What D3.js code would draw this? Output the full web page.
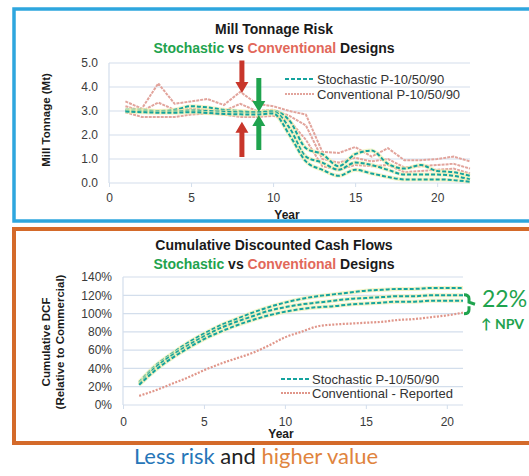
<!DOCTYPE html>
<html>
<head>
<meta charset="utf-8">
<script src="https://cdn.jsdelivr.net/npm/d3@7"></script>
<style>
  body { margin: 0; background: #fff; }
  svg { display: block; font-family: "Liberation Sans", Arial, sans-serif; }
</style>
</head>
<body>
<svg id="chart" width="529" height="476"></svg>
<script>
// ---- data: mill tonnage (Mt) by year 1..22
var tonYears = d3.range(1, 23);
var tonStochP90 = [3.05,3.05,3.0,3.05,3.2,3.15,3.05,3.0,2.95,3.0,2.6,1.45,1.2,0.7,1.2,1.35,0.8,0.6,0.75,0.5,0.45,0.3];
var tonStochP50 = [3.0,3.0,2.98,2.98,3.02,3.0,2.97,2.95,2.95,2.98,2.3,1.1,0.85,0.55,0.85,0.75,0.55,0.35,0.35,0.35,0.3,0.15];
var tonStochP10 = [2.98,2.95,2.93,2.93,2.95,2.92,2.88,2.86,2.85,2.9,2.0,0.9,0.55,0.3,0.55,0.4,0.25,0.15,0.15,0.15,0.12,0.05];
var tonConvP90 = [3.4,3.1,4.15,3.3,3.4,3.5,3.25,3.8,3.3,3.2,3.0,2.85,1.3,1.25,1.5,1.1,1.45,0.95,0.95,1.0,1.1,0.9];
var tonConvP50 = [3.2,3.0,3.35,3.05,3.1,3.05,3.0,3.3,3.0,3.05,2.8,2.4,1.0,0.85,1.05,0.9,1.0,0.65,0.7,0.75,0.8,0.6];
var tonConvP10 = [2.95,2.75,2.75,2.75,2.85,2.9,2.85,2.75,2.75,2.8,2.6,1.8,0.7,0.55,0.75,0.7,0.75,0.45,0.5,0.55,0.6,0.4];
var tonTicksY = [0,1,2,3,4,5];
var tonTicksX = [0,5,10,15,20];

// ---- data: cumulative DCF (% relative to commercial) by year 1..21
var dcfYears = d3.range(1, 22);
var dcfStochP90 = [25,43,56,68,78,87,94,101,107,112,116,119,121,123,125,126,127,127,128,128,128];
var dcfStochP50 = [23,41,54,65,75,84,91,97,103,107,110,112,114,116,117,118,119,119,120,120,120];
var dcfStochP10 = [22,38,51,62,72,80,87,93,98,102,105,107,108,110,111,112,113,113,114,114,114];
var dcfConv = [10,16,23,30,38,45,51,57,65,74,80,86,88,89,90,91,93,94,96,98,101];
var dcfTicksY = [0,20,40,60,80,100,120,140];
var dcfTicksX = [0,5,10,15,20];

var teal = "#14a39e", pink = "#e2a49c", green = "#1fa34e", red = "#c8362b";
var grid = "#d3deec";

var svg = d3.select("#chart");

// panel frames
svg.append("rect").attr("x", 14).attr("y", 9).attr("width", 540).attr("height", 212)
  .attr("fill", "#fff").attr("stroke", "#2ea6de").attr("stroke-width", 3.5);
svg.append("rect").attr("x", 14).attr("y", 229).attr("width", 540).attr("height", 214)
  .attr("fill", "#fff").attr("stroke", "#d46a2a").attr("stroke-width", 4);

function titles(y1, y2, text1) {
  svg.append("text").attr("x", 274).attr("y", y1).attr("text-anchor", "middle")
    .attr("font-weight", "bold").attr("font-size", 14).attr("fill", "#1a1a1a").text(text1);
  var t = svg.append("text").attr("x", 274).attr("y", y2).attr("text-anchor", "middle")
    .attr("font-weight", "bold").attr("font-size", 14);
  t.append("tspan").attr("fill", green).text("Stochastic");
  t.append("tspan").attr("fill", "#1a1a1a").text(" vs ");
  t.append("tspan").attr("fill", "#e2685a").text("Conventional");
  t.append("tspan").attr("fill", "#1a1a1a").text(" Designs");
}

function drawLine(g, xs, ys, xv, yv, opts) {
  var line = d3.line().x(function(d, i) { return xs(xv[i]); }).y(function(d) { return ys(d); })
    .curve(opts.curve || d3.curveLinear);
  if (opts.halo) {
    g.append("path").attr("d", line(yv)).attr("fill", "none")
      .attr("stroke", "#eef0b0").attr("stroke-width", 4).attr("opacity", 0.7);
  }
  g.append("path").attr("d", line(yv)).attr("fill", "none")
    .attr("stroke", opts.color).attr("stroke-width", opts.width)
    .attr("stroke-dasharray", opts.dash);
}

// ================= top chart: mill tonnage
titles(34, 53, "Mill Tonnage Risk");
var x1 = d3.scaleLinear().domain([0, 22]).range([109, 470]);
var y1 = d3.scaleLinear().domain([0, 5]).range([183, 63]);
var g1 = svg.append("g");

g1.selectAll(".grid").data(tonTicksY).enter().append("line")
  .attr("x1", x1(0)).attr("x2", x1(22)).attr("y1", y1).attr("y2", y1)
  .attr("stroke", grid).attr("stroke-width", 1.2);
g1.append("line").attr("x1", x1(0)).attr("x2", x1(0)).attr("y1", y1(0)).attr("y2", y1(5))
  .attr("stroke", grid).attr("stroke-width", 1.2);

var ax1 = g1.append("g").attr("transform", "translate(0," + y1(0) + ")")
  .call(d3.axisBottom(x1).tickValues(tonTicksX).tickSize(4).tickPadding(6));
ax1.select(".domain").remove();
ax1.selectAll("line").attr("stroke", grid);
ax1.selectAll("text").attr("font-size", 12).attr("fill", "#3a3a3a").attr("font-family", null);

var ay1 = g1.append("g").attr("transform", "translate(" + x1(0) + ",0)")
  .call(d3.axisLeft(y1).tickValues(tonTicksY).tickSize(0).tickPadding(11).tickFormat(d3.format(".1f")));
ay1.select(".domain").remove();
ay1.selectAll("text").attr("font-size", 12).attr("fill", "#3a3a3a").attr("font-family", null);

g1.append("text").attr("transform", "translate(50,120) rotate(-90)").attr("text-anchor", "middle")
  .attr("font-weight", "bold").attr("font-size", 11.5).attr("fill", "#1a1a1a").text("Mill Tonnage (Mt)");
g1.append("text").attr("x", 287).attr("y", 219).attr("text-anchor", "middle")
  .attr("font-weight", "bold").attr("font-size", 12).attr("fill", "#1a1a1a").text("Year");

[tonConvP90, tonConvP50, tonConvP10].forEach(function(s) {
  drawLine(g1, x1, y1, tonYears, s, { color: pink, width: 2, dash: "3,1", curve: d3.curveLinear });
});
[tonStochP90, tonStochP50, tonStochP10].forEach(function(s) {
  drawLine(g1, x1, y1, tonYears, s, { color: teal, width: 2, dash: "4,2", curve: d3.curveMonotoneX, halo: true });
});

// arrows
function arrow(g, x, yTail, yTip, color) {
  var dir = yTip > yTail ? 1 : -1, hw = 6.5, sw = 2.5, hl = 11;
  var yb = yTip - dir * hl;
  var pts = [[x - sw, yTail], [x + sw, yTail], [x + sw, yb], [x + hw, yb], [x, yTip], [x - hw, yb], [x - sw, yb]];
  g.append("path").attr("d", "M" + pts.join("L") + "Z").attr("fill", color);
}
arrow(g1, x1(8.1), y1(5.1), y1(3.75), red);
arrow(g1, x1(8.1), y1(1.08), y1(2.55), red);
arrow(g1, x1(9.13), y1(4.37), y1(2.96), green);
arrow(g1, x1(9.13), y1(1.37), y1(2.83), green);

// legend
var lg1 = g1.append("g");
lg1.append("line").attr("x1", 285).attr("x2", 315).attr("y1", 79).attr("y2", 79)
  .attr("stroke", teal).attr("stroke-width", 2).attr("stroke-dasharray", "4,2");
lg1.append("text").attr("x", 317).attr("y", 83.5).attr("font-size", 13).attr("fill", "#333").text("Stochastic P-10/50/90");
lg1.append("line").attr("x1", 285).attr("x2", 315).attr("y1", 94).attr("y2", 94)
  .attr("stroke", pink).attr("stroke-width", 2).attr("stroke-dasharray", "2,1");
lg1.append("text").attr("x", 317).attr("y", 98.5).attr("font-size", 13).attr("fill", "#333").text("Conventional P-10/50/90");

// ================= bottom chart: cumulative DCF
titles(250, 269, "Cumulative Discounted Cash Flows");
var x2 = d3.scaleLinear().domain([0, 21]).range([123, 463]);
var y2 = d3.scaleLinear().domain([0, 140]).range([405, 277]);
var g2 = svg.append("g");

g2.selectAll(".grid").data(dcfTicksY).enter().append("line")
  .attr("x1", x2(0)).attr("x2", x2(21)).attr("y1", y2).attr("y2", y2)
  .attr("stroke", grid).attr("stroke-width", 1.2);
g2.append("line").attr("x1", x2(0)).attr("x2", x2(0)).attr("y1", y2(0)).attr("y2", y2(140))
  .attr("stroke", grid).attr("stroke-width", 1.2);

var ax2 = g2.append("g").attr("transform", "translate(0," + y2(0) + ")")
  .call(d3.axisBottom(x2).tickValues(dcfTicksX).tickSize(4).tickPadding(8));
ax2.select(".domain").remove();
ax2.selectAll("line").attr("stroke", grid);
ax2.selectAll("text").attr("font-size", 12).attr("fill", "#3a3a3a").attr("font-family", null);

var ay2 = g2.append("g").attr("transform", "translate(" + x2(0) + ",0)")
  .call(d3.axisLeft(y2).tickValues(dcfTicksY).tickSize(0).tickPadding(11).tickFormat(function(d) { return d + "%"; }));
ay2.select(".domain").remove();
ay2.selectAll("text").attr("font-size", 12).attr("fill", "#3a3a3a").attr("font-family", null);

var yt = g2.append("text").attr("transform", "translate(50,342) rotate(-90)").attr("text-anchor", "middle")
  .attr("font-weight", "bold").attr("font-size", 11.5).attr("fill", "#1a1a1a");
yt.append("tspan").attr("x", 0).attr("dy", 0).text("Cumulative DCF");
yt.append("tspan").attr("x", 0).attr("dy", 14).text("(Relative to Commercial)");

g2.append("text").attr("x", 281).attr("y", 438).attr("text-anchor", "middle")
  .attr("font-weight", "bold").attr("font-size", 12).attr("fill", "#1a1a1a").text("Year");

drawLine(g2, x2, y2, dcfYears, dcfConv, { color: "#e0968a", width: 2.2, dash: "2,1.5", curve: d3.curveMonotoneX });
[dcfStochP90, dcfStochP50, dcfStochP10].forEach(function(s) {
  drawLine(g2, x2, y2, dcfYears, s, { color: teal, width: 2, dash: "4,2", curve: d3.curveMonotoneX, halo: true });
});

var lg2 = g2.append("g");
lg2.append("line").attr("x1", 281).attr("x2", 310).attr("y1", 379).attr("y2", 379)
  .attr("stroke", teal).attr("stroke-width", 2).attr("stroke-dasharray", "4,2");
lg2.append("text").attr("x", 312).attr("y", 383.5).attr("font-size", 13).attr("fill", "#333").text("Stochastic P-10/50/90");
lg2.append("line").attr("x1", 281).attr("x2", 310).attr("y1", 393).attr("y2", 393)
  .attr("stroke", "#e0968a").attr("stroke-width", 2.2).attr("stroke-dasharray", "2,1");
lg2.append("text").attr("x", 312).attr("y", 397.5).attr("font-size", 13).attr("fill", "#333").text("Conventional - Reported");

// NPV bracket
var bx = x2(21) + 6, bTop = y2(dcfStochP10[20]) - 6, bBot = y2(dcfConv[20]) + 1;
g2.append("path").attr("fill", "none").attr("stroke", green).attr("stroke-width", 3)
  .attr("d", "M" + (bx - 5) + "," + bTop + "Q" + bx + "," + bTop + " " + bx + "," + (bTop + 4) +
    "L" + bx + "," + ((bTop + bBot) / 2 - 2) + "L" + (bx + 6) + "," + ((bTop + bBot) / 2) +
    "M" + bx + "," + ((bTop + bBot) / 2 + 2) + "L" + bx + "," + (bBot - 4) +
    "Q" + bx + "," + bBot + " " + (bx - 5) + "," + bBot);
g2.append("text").attr("x", 482).attr("y", 307).attr("font-family", "Lato, 'Open Sans', sans-serif")
  .attr("font-size", 23).attr("fill", green).text("22%");
g2.append("text").attr("x", 481).attr("y", 329).attr("font-family", "Lato, 'Open Sans', sans-serif")
  .attr("font-weight", "bold").attr("font-size", 14).attr("fill", green).text("\u2191 NPV");

// footer
var ft = svg.append("text").attr("x", 256).attr("y", 464).attr("text-anchor", "middle")
  .attr("font-family", "Lato, 'Open Sans', sans-serif").attr("font-size", 22);
ft.append("tspan").attr("fill", "#2676b8").text("Less risk");
ft.append("tspan").attr("fill", "#222").text(" and ");
ft.append("tspan").attr("fill", "#e0843e").text("higher value");
</script>
</body>
</html>
